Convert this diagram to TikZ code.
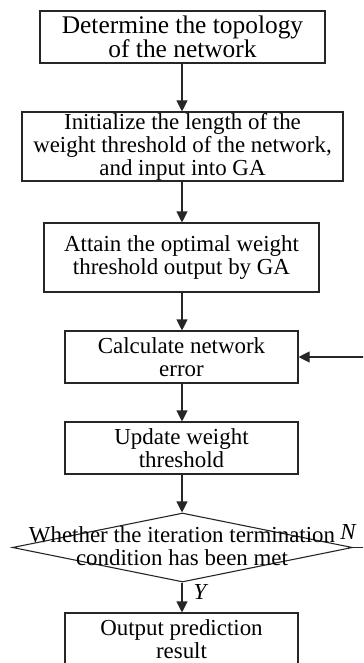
\documentclass[tikz,border=0pt]{standalone}
\usepackage{fontspec}
\setmainfont{Liberation Serif}
\usetikzlibrary{arrows.meta,shapes.geometric}

\begin{document}
\begin{tikzpicture}[x=1bp,y=-1bp,
  font=\fontsize{23}{23}\selectfont,
  box/.style={draw=black!85, line width=1.1bp, align=center, inner sep=0pt},
  conn/.style={draw=black!85, line width=1.1bp, -{Triangle[length=11bp,width=11bp]}},
  lbl/.style={font=\fontsize{23}{23}\selectfont\itshape, inner sep=0pt}]

\useasboundingbox (0,0) rectangle (363,663);
\clip (0,0) rectangle (363,663);

% process steps
\node[box, minimum width=285bp, minimum height=52bp,
  font=\fontsize{25.5}{23}\selectfont] (n1) at (182.5,37)
  {Determine the topology\\of the network};
\node[box, minimum width=321bp, minimum height=69bp] (n2) at (182.5,146.5)
  {Initialize the length of the\\weight threshold of the network,\\and input into GA};
\node[box, minimum width=275bp, minimum height=69bp] (n3) at (181.5,257.5)
  {Attain the optimal weight\\threshold output by GA};
\node[box, minimum width=233bp, minimum height=52bp] (n4) at (181.5,357)
  {Calculate network\\error};
\node[box, minimum width=233bp, minimum height=52bp] (n5) at (181.5,448)
  {Update weight\\threshold};

% decision
\node[diamond, draw=black!85, line width=1.1bp, minimum width=340bp,
  minimum height=69bp, inner sep=0pt] (d) at (182.5,547.5) {};
\node[align=center, inner sep=0pt] (dt) at (182,546)
  {Whether the iteration termination\\condition has been met};

\node[box, minimum width=233bp, minimum height=52bp] (n6) at (181.5,639)
  {Output prediction\\result};

% connectors
\draw[conn] (n1.south -| 182,0) -- (n2.north -| 182,0);
\draw[conn] (n2.south -| 182,0) -- (n3.north -| 182,0);
\draw[conn] (n3.south -| 182,0) -- (n4.north -| 182,0);
\draw[conn] (n4.south -| 182,0) -- (n5.north -| 182,0);
\draw[conn] (n5.south -| 182,0) -- (d.north -| 182,0);
\draw[conn] (d.south -| 182,0) -- (n6.north -| 182,0);
\draw[conn] (d.east) -- ++(16,0) |- (n4.east);

% branch labels
\node[lbl] (lN) at (348,532) {N};
\node[lbl] (lY) at (200,592) {Y};
\end{tikzpicture}
\end{document}
